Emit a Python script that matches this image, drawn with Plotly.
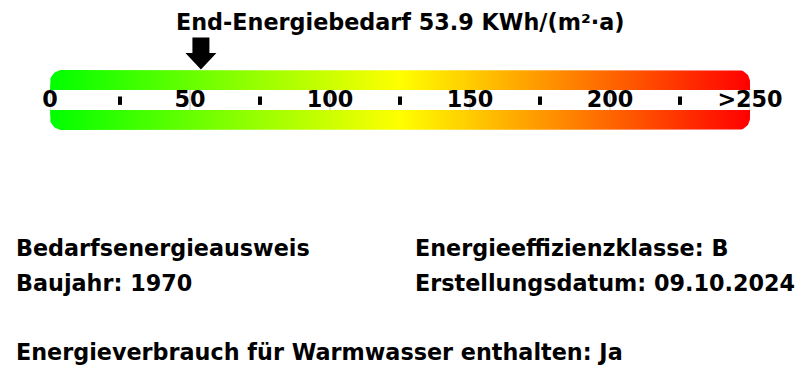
import numpy as np
import plotly.graph_objects as go

# ---- data ----
value = 53.9
scale_max = 250
major_ticks = [0, 50, 100, 150, 200, 250]
major_labels = ["0", "50", "100", "150", "200", ">250"]
minor_ticks = [25, 75, 125, 175, 225]
title_text = "End-Energiebedarf 53.9 KWh/(m²·a)"
left_info = ["Bedarfsenergieausweis", "Baujahr: 1970"]
right_info = ["Energieeffizienzklasse: B", "Erstellungsdatum: 09.10.2024"]
footer = "Energieverbrauch für Warmwasser enthalten: Ja"

# ---- layout constants (pixels) ----
W, H = 800, 380
ML, MR = 50, 50
px_per_unit = (W - ML - MR) / scale_max
R = 12  # corner radius px
FONT = dict(family="DejaVu Sans", size=22.3, color="black", weight="bold")
grad = [[0, "#00ff00"], [0.5, "#ffff00"], [1, "#ff0000"]]


def band(y_out, y_in, top):
    """rounded band: corners rounded on the outer side (y_out)."""
    rx = R / px_per_unit
    sgn = 1 if top else -1
    xs, ys = [0], [y_in]
    cy = y_out + sgn * R
    t = np.linspace(np.pi, np.pi / 2, 12)
    xs += list(rx + rx * np.cos(t))
    ys += list(cy - sgn * R * np.sin(t))
    t = np.linspace(np.pi / 2, 0, 12)
    xs += list(scale_max - rx + rx * np.cos(t))
    ys += list(cy - sgn * R * np.sin(t))
    xs += [scale_max, 0]
    ys += [y_in, y_in]
    return xs, ys


fig = go.Figure()

for y_out, y_in, top in [(70, 90, True), (130, 110, False)]:
    xs, ys = band(y_out, y_in, top)
    fig.add_trace(go.Scatter(
        x=xs, y=ys, mode="lines", fill="toself", line=dict(width=0),
        fillgradient=dict(type="horizontal", colorscale=grad, start=0, stop=scale_max),
        hoverinfo="skip", showlegend=False))

# gray tick lines in white band
for t in major_ticks:
    fig.add_trace(go.Scatter(x=[t, t], y=[90, 110], mode="lines",
                             line=dict(color="#c0c0c0", width=1),
                             hoverinfo="skip", showlegend=False))

# minor tick dots
fig.add_trace(go.Scatter(x=minor_ticks, y=[100.7] * len(minor_ticks), mode="markers",
                         marker=dict(symbol="line-ns", size=6,
                                     line=dict(width=4, color="black")),
                         hoverinfo="skip", showlegend=False))

# major labels
fig.add_trace(go.Scatter(x=major_ticks, y=[101] * len(major_ticks), mode="text",
                         text=major_labels, textposition="middle center",
                         textfont=FONT, hoverinfo="skip", showlegend=False,
                         cliponaxis=False))

# arrow
sh = 8.5 / px_per_unit
hh = 15.5 / px_per_unit
ax = [value - sh, value + sh, value + sh, value + hh, value, value - hh, value - sh, value - sh]
ay = [37.5, 37.5, 53, 53, 69.5, 53, 53, 37.5]
fig.add_trace(go.Scatter(x=ax, y=ay, mode="lines", fill="toself",
                         fillcolor="black", line=dict(width=0),
                         hoverinfo="skip", showlegend=False))

annotations = [dict(text=title_text, xref="paper", x=0.5, y=22, yref="y",
                    showarrow=False, font=FONT, xanchor="center", yanchor="middle")]


def xpaper(px):
    return (px - ML) / (W - ML - MR)


for i, t in enumerate(left_info):
    annotations.append(dict(text=t, xref="paper", x=xpaper(14), y=248 + 35 * i, yref="y",
                            showarrow=False, font=FONT, xanchor="left", yanchor="middle"))
for i, t in enumerate(right_info):
    annotations.append(dict(text=t, xref="paper", x=xpaper(413), y=248 + 35 * i, yref="y",
                            showarrow=False, font=FONT, xanchor="left", yanchor="middle"))
annotations.append(dict(text=footer, xref="paper", x=xpaper(14), y=352, yref="y",
                        showarrow=False, font=FONT, xanchor="left", yanchor="middle"))

fig.update_layout(
    width=W, height=H,
    margin=dict(l=ML, r=MR, t=0, b=0, pad=0),
    paper_bgcolor="white", plot_bgcolor="white",
    xaxis=dict(range=[0, scale_max], visible=False, fixedrange=True),
    yaxis=dict(range=[H, 0], visible=False, fixedrange=True),
    annotations=annotations,
    showlegend=False,
)

fig.write_html("out.html", config=dict(displayModeBar=False))
